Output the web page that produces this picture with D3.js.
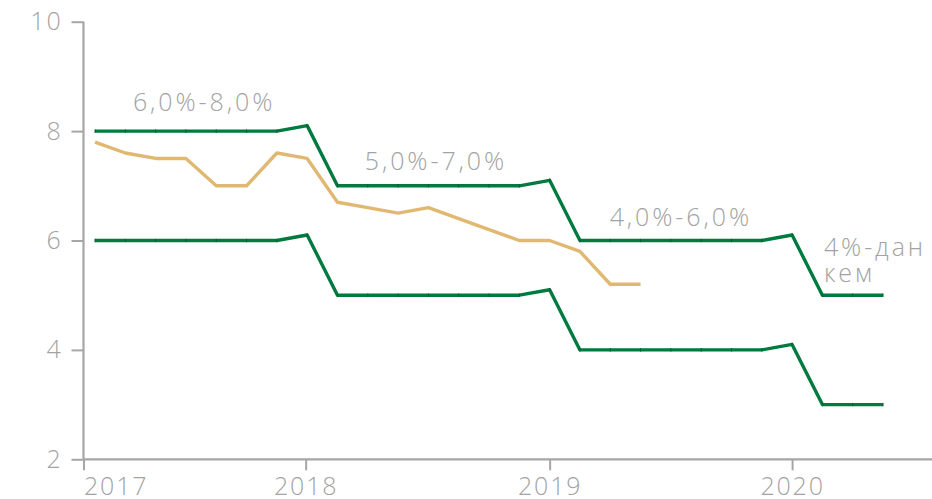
<!DOCTYPE html>
<html>
<head>
<meta charset="utf-8">
<script src="https://cdn.jsdelivr.net/npm/d3@7"></script>
<style>
  body { margin: 0; background: #fff; }
  text { font-family: "Open Sans", sans-serif; font-weight: 300; fill: #a3a3a3; }
</style>
</head>
<body>
<svg id="canvas"></svg>
<script>
// one point per policy meeting, 8 per year
const upperBand = [8, 8, 8, 8, 8, 8, 8, 8.1,
                   7, 7, 7, 7, 7, 7, 7, 7.1,
                   6, 6, 6, 6, 6, 6, 6, 6.1,
                   5, 5, 5];
const lowerBand = [6, 6, 6, 6, 6, 6, 6, 6.1,
                   5, 5, 5, 5, 5, 5, 5, 5.1,
                   4, 4, 4, 4, 4, 4, 4, 4.1,
                   3, 3, 3];
const inflation = [7.8, 7.6, 7.5, 7.5, 7.0, 7.0, 7.6, 7.5,
                   6.7, 6.6, 6.5, 6.6, 6.4, 6.2, 6.0, 6.0,
                   5.8, 5.2, 5.2];

const yearLabels = ["2017", "2018", "2019", "2020"];
const yearTicks = [-0.38, 6.95, 15, 23];   // meeting index of each year mark
const yTicks = [2, 4, 6, 8, 10];

// corridor labels: text lines, meeting index, value
const bandLabels = [
    { lines: ["6,0%-8,0%"], at: 1.25, value: 8.36 },
    { lines: ["5,0%-7,0%"], at: 8.9, value: 7.29 },
    { lines: ["4,0%-6,0%"], at: 16.98, value: 6.26 },
    { lines: ["4%-дан", "кем"], at: 24.05, value: 5.72 }
];

const width = 932;
const height = 499;

const canvas = d3.select('#canvas')
    .attr('width', width)
    .attr('height', height);

const xScale = d3.scaleLinear()
    .domain([-0.38, 27.55])
    .range([83.5, 930]);

const yScale = d3.scaleLinear()
    .domain([2, 10])
    .range([459.3, 21.7]);

const axisColor = '#a6a6a6';

// y axis
const yAxis = d3.axisLeft(yScale)
    .tickValues(yTicks)
    .tickSize(12)
    .tickPadding(9)
    .tickFormat(d3.format('d'));

const gy = canvas.append('g')
    .attr('transform', 'translate(' + xScale(-0.38) + ',0)')
    .call(yAxis);

// x axis
const xAxis = d3.axisBottom(xScale)
    .tickValues(yearTicks)
    .tickSize(11)
    .tickPadding(5)
    .tickFormat((d, i) => yearLabels[i]);

const gx = canvas.append('g')
    .attr('transform', 'translate(0,' + yScale(2) + ')')
    .call(xAxis);

[gx, gy].forEach(g => {
    g.select('.domain').attr('stroke', axisColor).attr('stroke-width', 2.2);
    g.selectAll('.tick line').attr('stroke', axisColor).attr('stroke-width', 2);
    g.selectAll('.tick text')
        .attr('fill', '#a3a3a3')
        .style('font-size', '25px')
        .style('letter-spacing', '1.8px');
});
gy.select('.domain').attr('d', 'M0,' + yScale(10) + 'V' + yScale(2));
gx.select('.domain').attr('d', 'M' + xScale(-0.38) + ',0H' + width);
gx.selectAll('.tick text')
    .attr('dy', '0.78em')
    .attr('text-anchor', (d, i) => i === 0 ? 'start' : 'middle');

const line = d3.line()
    .x((d, i) => xScale(i))
    .y(d => yScale(d));

const series = [
    { values: upperBand, color: '#007a3f' },
    { values: lowerBand, color: '#007a3f' },
    { values: inflation, color: '#e1b872' }
];

canvas.append('g')
    .selectAll('path')
    .data(series)
    .enter()
    .append('path')
    .attr('d', s => line(s.values))
    .attr('fill', 'none')
    .attr('stroke', s => s.color)
    .attr('stroke-width', 3.4)
    .attr('stroke-linejoin', 'round');

// faint joints where each segment meets the next
canvas.append('g')
    .selectAll('line')
    .data(upperBand.map((v, i) => [i, v]).concat(lowerBand.map((v, i) => [i, v])))
    .enter()
    .append('line')
    .attr('x1', d => xScale(d[0]))
    .attr('x2', d => xScale(d[0]))
    .attr('y1', d => yScale(d[1]) - 1.7)
    .attr('y2', d => yScale(d[1]) + 1.7)
    .attr('stroke', '#005e30')
    .attr('stroke-width', 1);

const labels = canvas.append('g')
    .selectAll('text')
    .data(bandLabels)
    .enter()
    .append('text')
    .attr('x', d => xScale(d.at))
    .attr('y', d => yScale(d.value))
    .style('font-size', '25px')
    .style('letter-spacing', '2.9px');

labels.selectAll('tspan')
    .data(d => d.lines.map((t, i) => ({ t: t, i: i, x: xScale(d.at) })))
    .enter()
    .append('tspan')
    .attr('x', d => d.x)
    .attr('dy', d => d.i === 0 ? 0 : 26)
    .text(d => d.t);
</script>
</body>
</html>
